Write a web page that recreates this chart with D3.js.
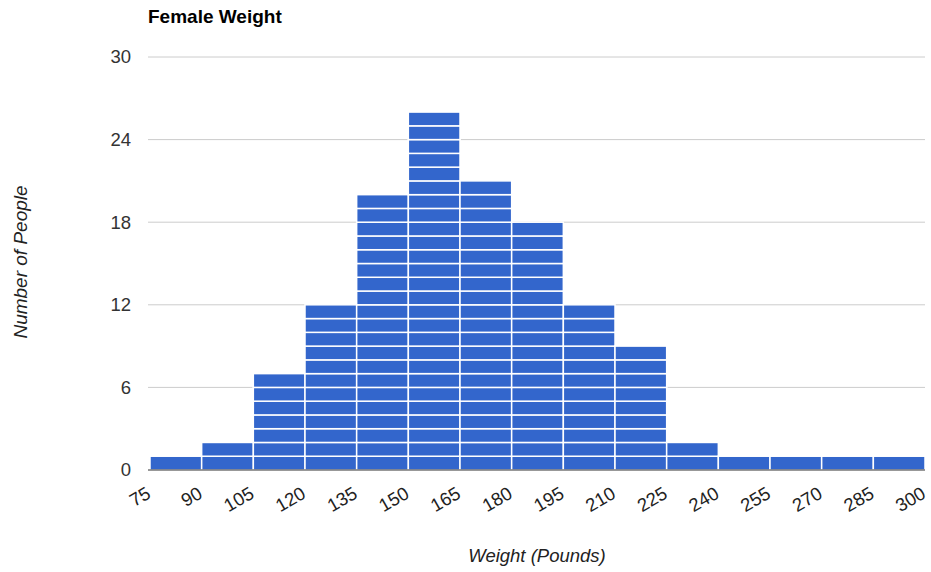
<!DOCTYPE html>
<html>
<head>
<meta charset="utf-8">
<script src="https://cdn.jsdelivr.net/npm/d3@7"></script>
<style>
  body { margin: 0; background: #fff; }
  text { font-family: "Liberation Sans", Arial, sans-serif; }
</style>
</head>
<body>
<div id="root"></div>
<script>
// histogram bins (lower edges) and counts per bin
const binStarts = [75, 90, 105, 120, 135, 150, 165, 180, 195, 210, 225, 240, 255, 270, 285];
const counts = [1, 2, 7, 12, 20, 26, 21, 18, 12, 9, 2, 1, 1, 1, 1];
const binSize = 15;
const xTicks = [75, 90, 105, 120, 135, 150, 165, 180, 195, 210, 225, 240, 255, 270, 285, 300];
const yTicks = [0, 6, 12, 18, 24, 30];

const W = 931, H = 572;
const margin = { top: 57, right: 6, bottom: 102, left: 150 };

const svg = d3.select("#root").append("svg")
  .attr("width", W)
  .attr("height", H);

const x = d3.scaleLinear().domain([75, 300]).range([margin.left, W - margin.right]);
const y = d3.scaleLinear().domain([0, 30]).range([H - margin.bottom, margin.top]);

// gridlines
svg.append("g").selectAll("line").data(yTicks.filter(d => d > 0)).enter().append("line")
  .attr("x1", margin.left - 2)
  .attr("x2", W - margin.right)
  .attr("y1", d => y(d))
  .attr("y2", d => y(d))
  .attr("stroke", "#cccccc")
  .attr("stroke-width", 1);

// y labels
svg.append("g").selectAll("text").data(yTicks).enter().append("text")
  .attr("x", margin.left - 19)
  .attr("y", d => y(d))
  .attr("dy", "0.35em")
  .attr("text-anchor", "end")
  .attr("font-size", 18.5)
  .attr("fill", "#333")
  .text(d => d);

// one block per item, like google histogram
const blocks = [];
binStarts.forEach((b, i) => {
  for (let k = 0; k < counts[i]; k++) blocks.push({ bin: b, k: k });
});

svg.append("g").selectAll("rect").data(blocks).enter().append("rect")
  .attr("x", d => x(d.bin))
  .attr("width", d => x(d.bin + binSize) - x(d.bin))
  .attr("y", d => y(d.k + 1))
  .attr("height", d => y(d.k) - y(d.k + 1))
  .attr("fill", "#3366cc")
  .attr("stroke", "#ffffff")
  .attr("stroke-width", 1.5);

// baseline
svg.append("line")
  .attr("x1", margin.left - 2)
  .attr("x2", W - margin.right)
  .attr("y1", y(0))
  .attr("y2", y(0))
  .attr("stroke", "#333")
  .attr("stroke-width", 1);

// x tick labels, slanted
svg.append("g").selectAll("text").data(xTicks).enter().append("text")
  .attr("transform", d => `translate(${x(d) + 2}, ${y(0) + 27}) rotate(-30)`)
  .attr("text-anchor", "end")
  .attr("font-size", 18.5)
  .attr("fill", "#222")
  .text(d => d);

// titles
svg.append("text")
  .attr("x", 148)
  .attr("y", 23)
  .attr("font-size", 19)
  .attr("font-weight", "bold")
  .attr("fill", "#000")
  .text("Female Weight");

svg.append("text")
  .attr("transform", "translate(27, 262) rotate(-90)")
  .attr("text-anchor", "middle")
  .attr("font-size", 19)
  .attr("font-style", "italic")
  .attr("fill", "#222")
  .text("Number of People");

svg.append("text")
  .attr("x", 537)
  .attr("y", 562)
  .attr("text-anchor", "middle")
  .attr("font-size", 18.5)
  .attr("font-style", "italic")
  .attr("fill", "#222")
  .text("Weight (Pounds)");
</script>
</body>
</html>
